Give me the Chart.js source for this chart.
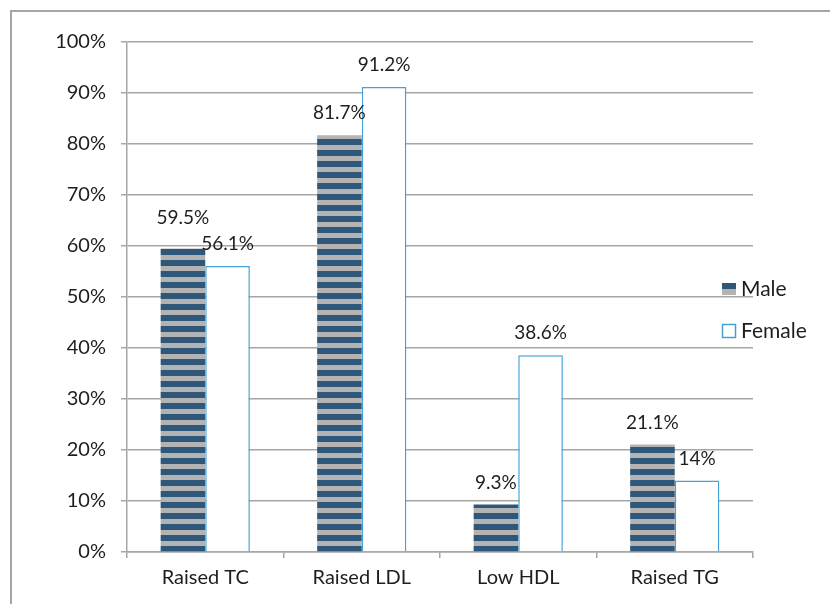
<!DOCTYPE html>
<html>
<head>
<meta charset="utf-8">
<script src="https://cdn.jsdelivr.net/npm/chart.js@4"></script>
<style>
  body { margin: 0; background: #fff; }
  #wrap { position: relative; width: 830px; height: 604px; overflow: hidden; }
  #frame { position: absolute; left: 10px; top: 10px; width: 900px; height: 700px;
           border-top: 2px solid #a6a6a6; border-left: 2px solid #a6a6a6; }
  #chart { position: absolute; left: 0; top: 0; }
</style>
</head>
<body>
<div id="wrap">
  <div id="frame"></div>
  <canvas id="chart" width="830" height="604"></canvas>
</div>
<script>
    // Data
    const categories = ['Raised TC', 'Raised LDL', 'Low HDL', 'Raised TG'];
    const maleValues = [59.5, 81.7, 9.3, 21.1];
    const femaleValues = [56.1, 91.2, 38.6, 14];
    const yTicks = [0, 10, 20, 30, 40, 50, 60, 70, 80, 90, 100];

    const FONT = 'Lato, "Open Sans", sans-serif';
    const TEXT = '#1e1e1e';
    const GRID = '#a6a6a6';
    const DARK = '#2f5779';
    const GRAY = '#b3b3b3';
    const FEMALE_BORDER = '#45a0d8';

    // striped fill for Male bars (horizontal stripes)
    function makeStripes() {
        const c = document.createElement('canvas');
        c.width = 11; c.height = 11;
        const g = c.getContext('2d');
        g.fillStyle = GRAY;
        g.fillRect(0, 0, 11, 11);
        g.fillStyle = DARK;
        g.fillRect(0, 0, 11, 6);
        const p = g.createPattern(c, 'repeat');
        p.setTransform(new DOMMatrix().translate(0, 7));
        return p;
    }

    const canvas = document.getElementById('chart');
    const stripes = makeStripes();

    // value labels above bars
    const valueLabels = {
        id: 'valueLabels',
        afterDatasetsDraw(chart) {
            const ctx = chart.ctx;
            ctx.save();
            ctx.font = '19px ' + FONT;
            ctx.fillStyle = TEXT;
            ctx.textAlign = 'center';
            ctx.textBaseline = 'middle';
            chart.data.datasets.forEach((ds, i) => {
                chart.getDatasetMeta(i).data.forEach((bar, j) => {
                    const lift = (i === 0 && j === 0) ? 31 : 22;
                    ctx.fillText(ds.data[j] + '%', bar.x, bar.y - lift);
                });
            });
            ctx.restore();
        }
    };

    // legend drawn over the right side of the plot
    const sideLegend = {
        id: 'sideLegend',
        afterDraw(chart) {
            const ctx = chart.ctx;
            ctx.save();
            ctx.fillStyle = DARK;
            ctx.fillRect(722, 283, 14, 6);
            ctx.fillStyle = GRAY;
            ctx.fillRect(722, 289, 14, 6);
            ctx.fillStyle = '#fff';
            ctx.fillRect(722.5, 324.5, 13, 13);
            ctx.strokeStyle = FEMALE_BORDER;
            ctx.lineWidth = 1.5;
            ctx.strokeRect(722.5, 324.5, 13, 13);
            ctx.font = '21px ' + FONT;
            ctx.fillStyle = TEXT;
            ctx.textAlign = 'left';
            ctx.textBaseline = 'middle';
            ctx.fillText('Male', 741, 289);
            ctx.fillText('Female', 741, 331);
            ctx.restore();
        }
    };

    new Chart(canvas, {
        type: 'bar',
        data: {
            labels: categories,
            datasets: [
                {
                    label: 'Male',
                    data: maleValues,
                    backgroundColor: stripes,
                    borderWidth: 0,
                },
                {
                    label: 'Female',
                    data: femaleValues,
                    backgroundColor: '#ffffff',
                    borderColor: FEMALE_BORDER,
                    borderWidth: 1.5,
                },
            ],
        },
        options: {
            responsive: false,
            animation: false,
            devicePixelRatio: 1,
            layout: { padding: { left: 0, top: 42, right: 77, bottom: 0 } },
            datasets: { bar: { categoryPercentage: 0.57, barPercentage: 1 } },
            plugins: {
                legend: { display: false },
                tooltip: { enabled: false },
            },
            scales: {
                x: {
                    grid: { drawOnChartArea: false, drawTicks: true, tickLength: 6, color: GRID, lineWidth: 1.5, offset: true },
                    border: { color: GRID, width: 1.5 },
                    ticks: { color: TEXT, font: { family: FONT, size: 20 }, padding: 8 },
                    afterFit(scale) { scale.height = 52; },
                },
                y: {
                    min: 0,
                    max: 100,
                    afterBuildTicks(scale) { scale.ticks = yTicks.map(v => ({ value: v })); },
                    grid: { color: GRID, lineWidth: 1.5, tickLength: 6 },
                    border: { color: GRID, width: 1.5 },
                    ticks: { color: TEXT, font: { family: FONT, size: 20 }, padding: 15, callback: v => v + '%' },
                    afterFit(scale) { scale.width = 127; },
                },
            },
        },
        plugins: [valueLabels, sideLegend],
    });
</script>
</body>
</html>
